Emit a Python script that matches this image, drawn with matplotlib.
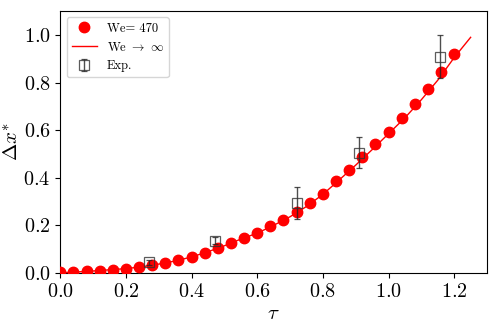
import matplotlib
matplotlib.use("Agg")
import matplotlib.pyplot as plt

plt.rcParams["font.family"] = "serif"
plt.rcParams["font.serif"] = ["cmr10"]
plt.rcParams["mathtext.fontset"] = "cm"
plt.rcParams["axes.formatter.use_mathtext"] = True

# simulation, We = 470
tau_sim = [0.00, 0.04, 0.08, 0.12, 0.16, 0.20, 0.24, 0.28, 0.32, 0.36,
           0.40, 0.44, 0.48, 0.52, 0.56, 0.60, 0.64, 0.68, 0.72, 0.76,
           0.80, 0.84, 0.88, 0.92, 0.96, 1.00, 1.04, 1.08, 1.12, 1.16, 1.20]
dx_sim = [0.003, 0.004, 0.007, 0.010, 0.014, 0.018, 0.024, 0.034, 0.041, 0.053,
          0.067, 0.085, 0.104, 0.125, 0.147, 0.168, 0.196, 0.224, 0.255, 0.294,
          0.333, 0.385, 0.434, 0.489, 0.542, 0.594, 0.650, 0.709, 0.773, 0.843, 0.920]

# We -> infinity curve
tau_inf = [0.00, 0.05, 0.10, 0.15, 0.20, 0.25, 0.30, 0.35, 0.40, 0.45, 0.50,
           0.55, 0.60, 0.65, 0.70, 0.75, 0.80, 0.85, 0.90, 0.95, 1.00,
           1.05, 1.10, 1.15, 1.20, 1.25]
dx_inf = [0.000, 0.004, 0.008, 0.013, 0.018, 0.026, 0.037, 0.050, 0.067, 0.089, 0.114,
          0.142, 0.167, 0.200, 0.236, 0.279, 0.330, 0.391, 0.453, 0.518, 0.585,
          0.652, 0.728, 0.810, 0.905, 0.990]

# experiments
tau_exp = [0.270, 0.470, 0.720, 0.910, 1.158]
dx_exp = [0.045, 0.136, 0.295, 0.505, 0.908]
err_exp = [0.010, 0.014, 0.068, 0.065, 0.090]

fig = plt.figure(figsize=(4.98, 3.28), dpi=100)
ax = fig.add_axes([0.121, 0.168, 0.857, 0.798])

ax.plot(tau_sim, dx_sim, "o", color="red", ms=7.5, label="We= 470", zorder=3)
ax.plot(tau_inf, dx_inf, "-", color="red", lw=1.0, label=r"We $\to$ $\infty$", zorder=2)
ax.errorbar(tau_exp, dx_exp, yerr=err_exp, fmt="s", mfc="none", mec="#333333",
            ms=6.5, mew=0.9, ecolor="#222222", elinewidth=1.0, capsize=2,
            alpha=0.8, label="Exp.", zorder=4)

ax.set_xlim(0, 1.3)
ax.set_ylim(0, 1.1)
ax.set_xticks([0.0, 0.2, 0.4, 0.6, 0.8, 1.0, 1.2])
ax.set_yticks([0.0, 0.2, 0.4, 0.6, 0.8, 1.0])
ax.tick_params(labelsize=14.5)
ax.set_xlabel(r"$\tau$", fontsize=15, labelpad=3)
ax.set_ylabel(r"$\Delta x^{*}$", fontsize=15)
ax.yaxis.set_label_coords(-0.09, 0.5)
ax.legend(loc="upper left", fontsize=9)

fig.savefig("out.png", dpi=100)
